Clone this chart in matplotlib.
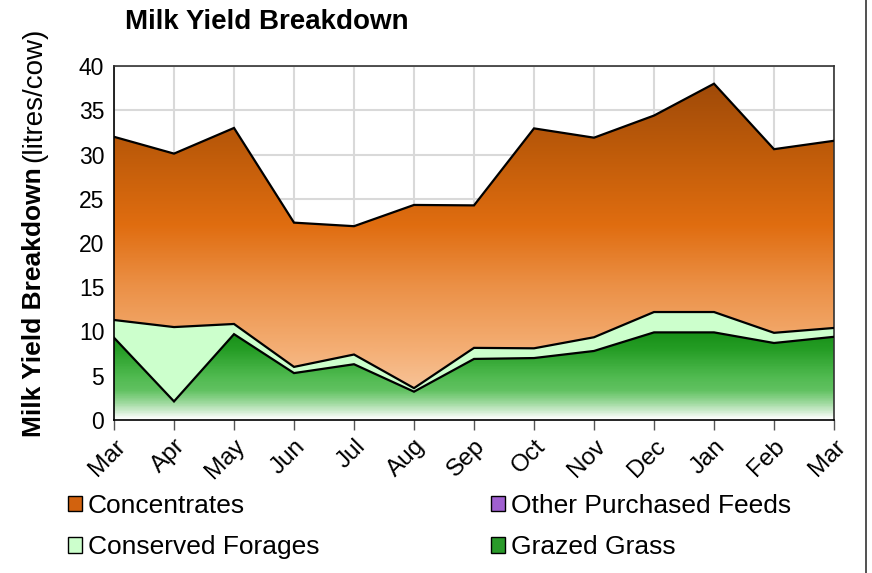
import numpy as np
import matplotlib
matplotlib.use("Agg")
import matplotlib.pyplot as plt
from matplotlib.colors import LinearSegmentedColormap
from matplotlib.patches import Patch
from matplotlib.lines import Line2D

months = ["Mar", "Apr", "May", "Jun", "Jul", "Aug", "Sep", "Oct", "Nov", "Dec", "Jan", "Feb", "Mar"]
grazed_grass = [9.3, 2.1, 9.7, 5.3, 6.3, 3.2, 6.9, 7.0, 7.8, 9.9, 9.9, 8.7, 9.4]
conserved_forages = [2.0, 8.4, 1.15, 0.7, 1.1, 0.4, 1.25, 1.1, 1.55, 2.3, 2.3, 1.15, 1.0]
other_purchased = [0, 0, 0, 0, 0, 0, 0, 0, 0, 0, 0, 0, 0]
concentrates = [20.7, 19.6, 22.15, 16.3, 14.5, 20.7, 16.1, 24.85, 22.55, 22.2, 25.8, 20.75, 21.15]

plt.rcParams['font.family'] = ['Liberation Sans', 'DejaVu Sans']

fig = plt.figure(figsize=(8.72, 5.73), dpi=100)
W, H = 872, 573
ax = fig.add_axes([114 / W, 1 - 420 / H, 720 / W, 354 / H])

x = np.arange(len(months))
g = np.array(grazed_grass)
c = g + np.array(conserved_forages)
o = c + np.array(other_purchased)
t = o + np.array(concentrates)

# vertical gradients in data units
conc_cmap = LinearSegmentedColormap.from_list("conc", [
    (0.0, "#FAD3B2"), (0.2, "#F4AE74"), (0.38, "#EB9046"),
    (0.55, "#E06D10"), (0.75, "#C05C0A"), (1.0, "#984608")])
grass_cmap = LinearSegmentedColormap.from_list("grass", [
    (0.0, "#FFFFFF"), (0.04, "#A8DDA8"), (0.08, "#62C262"),
    (0.12, "#50BA50"), (0.2, "#249C24"), (0.27, "#128A12"), (1.0, "#0E820E")])

grad = np.linspace(0, 1, 400).reshape(-1, 1)


def gradient_fill(lower, upper, cmap=None, color=None):
    poly = ax.fill_between(x, lower, upper, facecolor="none", edgecolor="none", zorder=2)
    if cmap is not None:
        img = ax.imshow(grad, cmap=cmap, origin="lower", aspect="auto",
                        extent=[x[0], x[-1], 0, 40], zorder=1, interpolation="bilinear")
        img.set_clip_path(poly.get_paths()[0], transform=ax.transData)
    else:
        ax.fill_between(x, lower, upper, facecolor=color, edgecolor="none", zorder=1)


gradient_fill(0, g, cmap=grass_cmap)
gradient_fill(g, c, color="#CCFFCC")
gradient_fill(o, t, cmap=conc_cmap)

for line in (g, c, t):
    ax.plot(x, line, color="black", lw=1.6, zorder=3, solid_joinstyle="miter")

ax.set_xlim(0, 12)
ax.set_ylim(0, 40)
ax.set_yticks(range(0, 41, 5))
ax.set_xticks(x)
ax.set_xticklabels(months, rotation=45, ha="right", rotation_mode="anchor", fontsize=17.5)
ax.tick_params(axis="y", length=0, labelsize=16.5, pad=7)
ax.tick_params(axis="x", length=7, width=1, color="#555555", pad=4)
ax.grid(True, color="#D9D9D9", lw=1.5, zorder=0)
ax.set_axisbelow(True)
for s in ax.spines.values():
    s.set_color("#333333")
    s.set_linewidth(1.2)
ax.spines["bottom"].set_color("black")
ax.spines["left"].set_color("black")

fig.text(267 / W, 1 - 22 / H, "Milk Yield Breakdown", fontsize=20, fontweight="bold",
         ha="center", va="center")

# y label with bold and normal parts
lab1 = fig.text(34 / W, 1 - 437 / H, "Milk Yield Breakdown", rotation=90, fontsize=19,
                fontweight="bold", ha="center", va="bottom")
fig.canvas.draw()
bb = lab1.get_window_extent(fig.canvas.get_renderer())
fig.text(34 / W, (bb.y1 + 5) / H, "(litres/cow)", rotation=90, fontsize=20,
         ha="center", va="bottom")

handles = [Patch(facecolor="#D2620E", edgecolor="black", label="Concentrates"),
           Patch(facecolor="#CCFFCC", edgecolor="black", label="Conserved Forages"),
           Patch(facecolor="#A060D0", edgecolor="black", label="Other Purchased Feeds"),
           Patch(facecolor="#2A9A2A", edgecolor="black", label="Grazed Grass")]
fig.legend(handles=handles, ncol=2, loc="upper left", bbox_to_anchor=(68 / W, 1 - 494 / H),
           frameon=False, fontsize=19, handlelength=0.53, handleheight=0.53, handletextpad=0.22,
           columnspacing=6.5, labelspacing=0.65, borderaxespad=0, borderpad=0)

fig.add_artist(Line2D([866 / W, 866 / W], [0, 1], color="#333333", lw=1.2))

fig.savefig("out.png", dpi=100)
